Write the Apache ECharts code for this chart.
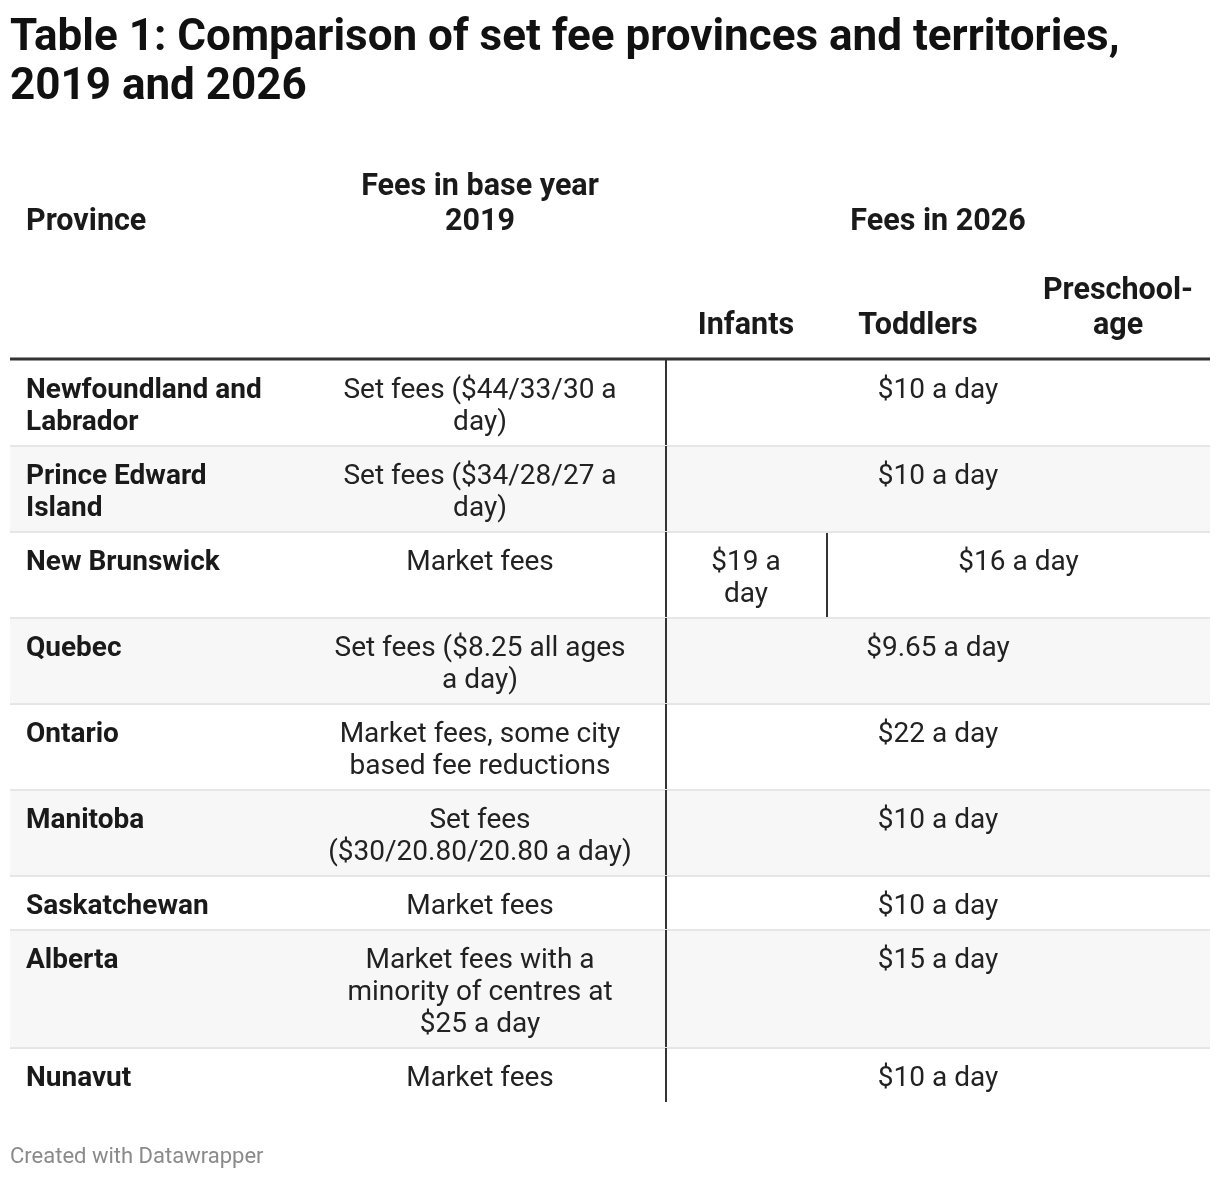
<!DOCTYPE html>
<html>
<head>
<meta charset="utf-8">
<script src="https://cdn.jsdelivr.net/npm/echarts@6/dist/echarts.min.js"></script>
<style>
html,body{margin:0;padding:0;background:#fff;}
#chart{width:1220px;height:1178px;}
</style>
</head>
<body>
<div id="chart"></div>
<script>
// ---- data ----
var provinces = ['Newfoundland and\nLabrador', 'Prince Edward\nIsland', 'New Brunswick', 'Quebec', 'Ontario', 'Manitoba', 'Saskatchewan', 'Alberta', 'Nunavut'];
var fees2019 = ['Set fees ($44/33/30 a\nday)', 'Set fees ($34/28/27 a\nday)', 'Market fees', 'Set fees ($8.25 all ages\na day)', 'Market fees, some city\nbased fee reductions', 'Set fees\n($30/20.80/20.80 a day)', 'Market fees', 'Market fees with a\nminority of centres at\n$25 a day', 'Market fees'];
var infants2026 = ['$10 a day', '$10 a day', '$19 a\nday', '$9.65 a day', '$22 a day', '$10 a day', '$10 a day', '$15 a day', '$10 a day'];
var toddlers2026 = ['$10 a day', '$10 a day', '$16 a day', '$9.65 a day', '$22 a day', '$10 a day', '$10 a day', '$15 a day', '$10 a day'];
var preschool2026 = ['$10 a day', '$10 a day', '$16 a day', '$9.65 a day', '$22 a day', '$10 a day', '$10 a day', '$15 a day', '$10 a day'];
var headerLabels = ['Province', 'Fees in base year\n2019', 'Fees in 2026', 'Infants', 'Toddlers', 'Preschool-\nage'];
var titleText = 'Table 1: Comparison of set fee provinces and territories,\n2019 and 2026';
var footerText = 'Created with Datawrapper';

// ---- layout ----
var FONT = 'Roboto, "Noto Sans", sans-serif';
var LH = 32, PAD = 22, TOPPAD = 15;
function nLines(s) { return s.split('\n').length; }
var rowTops = [], acc = 0;
for (var i = 0; i < provinces.length; i++) {
  rowTops.push(acc);
  var n = Math.max(nLines(provinces[i]), nLines(fees2019[i]), nLines(infants2026[i]), nLines(toddlers2026[i]), nLines(preschool2026[i]));
  acc += PAD + LH * n;
}
var totalH = acc;
// column positions (x units from table left)
var COL = { prov: 16, fee19: 470, div: 656, inf: 736, div2: 817, todPre: 1008.5, all: 928, end: 1200 };

var chart = echarts.init(document.getElementById('chart'), null, { renderer: 'canvas' });

function txt(s, x, y, opts) {
  return {
    type: 'text',
    style: Object.assign({
      text: s, x: x, y: y, fill: '#222', fontSize: 28, fontFamily: FONT,
      align: 'center', verticalAlign: 'top', lineHeight: LH
    }, opts || {})
  };
}

function renderItem(params, api) {
  var i = api.value(0);
  var top = rowTops[i], bot = (i + 1 < rowTops.length) ? rowTops[i + 1] : totalH;
  var p0 = api.coord([0, top]), p1 = api.coord([COL.end, bot]);
  var y0 = p0[1], y1 = p1[1];
  function X(u) { return api.coord([u, top])[0]; }
  var children = [];
  if (i % 2 === 1) {
    children.push({ type: 'rect', shape: { x: p0[0], y: y0, width: p1[0] - p0[0], height: y1 - y0 }, style: { fill: '#f7f7f7' } });
  }
  if (i > 0) {
    children.push({ type: 'line', shape: { x1: p0[0], y1: y0, x2: p1[0], y2: y0 }, style: { stroke: '#e6e6e6', lineWidth: 2 } });
  }
  var ty = y0 + TOPPAD;
  children.push(txt(provinces[i], X(COL.prov), ty, { align: 'left', fontWeight: 'bold', fill: '#1a1a1a' }));
  children.push(txt(fees2019[i], X(COL.fee19), ty));
  if (infants2026[i] === toddlers2026[i] && toddlers2026[i] === preschool2026[i]) {
    children.push(txt(infants2026[i], X(COL.all), ty));
  } else {
    children.push(txt(infants2026[i], X(COL.inf), ty));
    children.push(txt(toddlers2026[i], X(COL.todPre), ty));
    children.push({ type: 'line', shape: { x1: X(COL.div2), y1: y0 + 1, x2: X(COL.div2), y2: y1 - 1 }, style: { stroke: '#333', lineWidth: 2 } });
  }
  children.push({ type: 'line', shape: { x1: X(COL.div), y1: y0, x2: X(COL.div), y2: y1 }, style: { stroke: '#333', lineWidth: 2 } });
  return { type: 'group', children: children };
}

var rowData = provinces.map(function (p, i) { return [i, rowTops[i]]; });

var HLH = 35;
var hdrStyle = { fill: '#1a1a1a', fontSize: 30.5, fontWeight: 'bold', fontFamily: FONT, lineHeight: HLH };
function hdrTop(s, x, firstCenter, align) {
  return {
    type: 'text', x: x, y: firstCenter - HLH / 2,
    style: Object.assign({ text: s, align: align || 'center', verticalAlign: 'top' }, hdrStyle)
  };
}

chart.setOption({
  animation: false,
  title: {
    text: titleText, left: 10, top: 14, padding: 0,
    textStyle: { fontFamily: FONT, fontSize: 44, fontWeight: 'bold', color: '#111', lineHeight: 49 }
  },
  grid: { left: 10, width: 1200, top: 360, height: totalH },
  xAxis: { type: 'value', min: 0, max: COL.end, show: false },
  yAxis: { type: 'value', min: 0, max: totalH, inverse: true, show: false },
  series: [{
    type: 'custom',
    renderItem: renderItem,
    data: rowData,
    encode: { x: 0, y: 1 },
    clip: false,
    silent: true
  }],
  graphic: [
    hdrTop(headerLabels[0], 26, 222, 'left'),
    hdrTop(headerLabels[1], 480, 187),
    hdrTop(headerLabels[2], 938, 222),
    hdrTop(headerLabels[3], 746, 326),
    hdrTop(headerLabels[4], 918, 326),
    hdrTop(headerLabels[5], 1118, 291),
    { type: 'rect', shape: { x: 10, y: 357.5, width: 1200, height: 3 }, style: { fill: '#333' } },
    { type: 'text', x: 10, y: 1157, style: { text: footerText, fill: '#8a8a8a', fontSize: 22, fontFamily: FONT, verticalAlign: 'middle', align: 'left' } }
  ]
});
</script>
</body>
</html>
